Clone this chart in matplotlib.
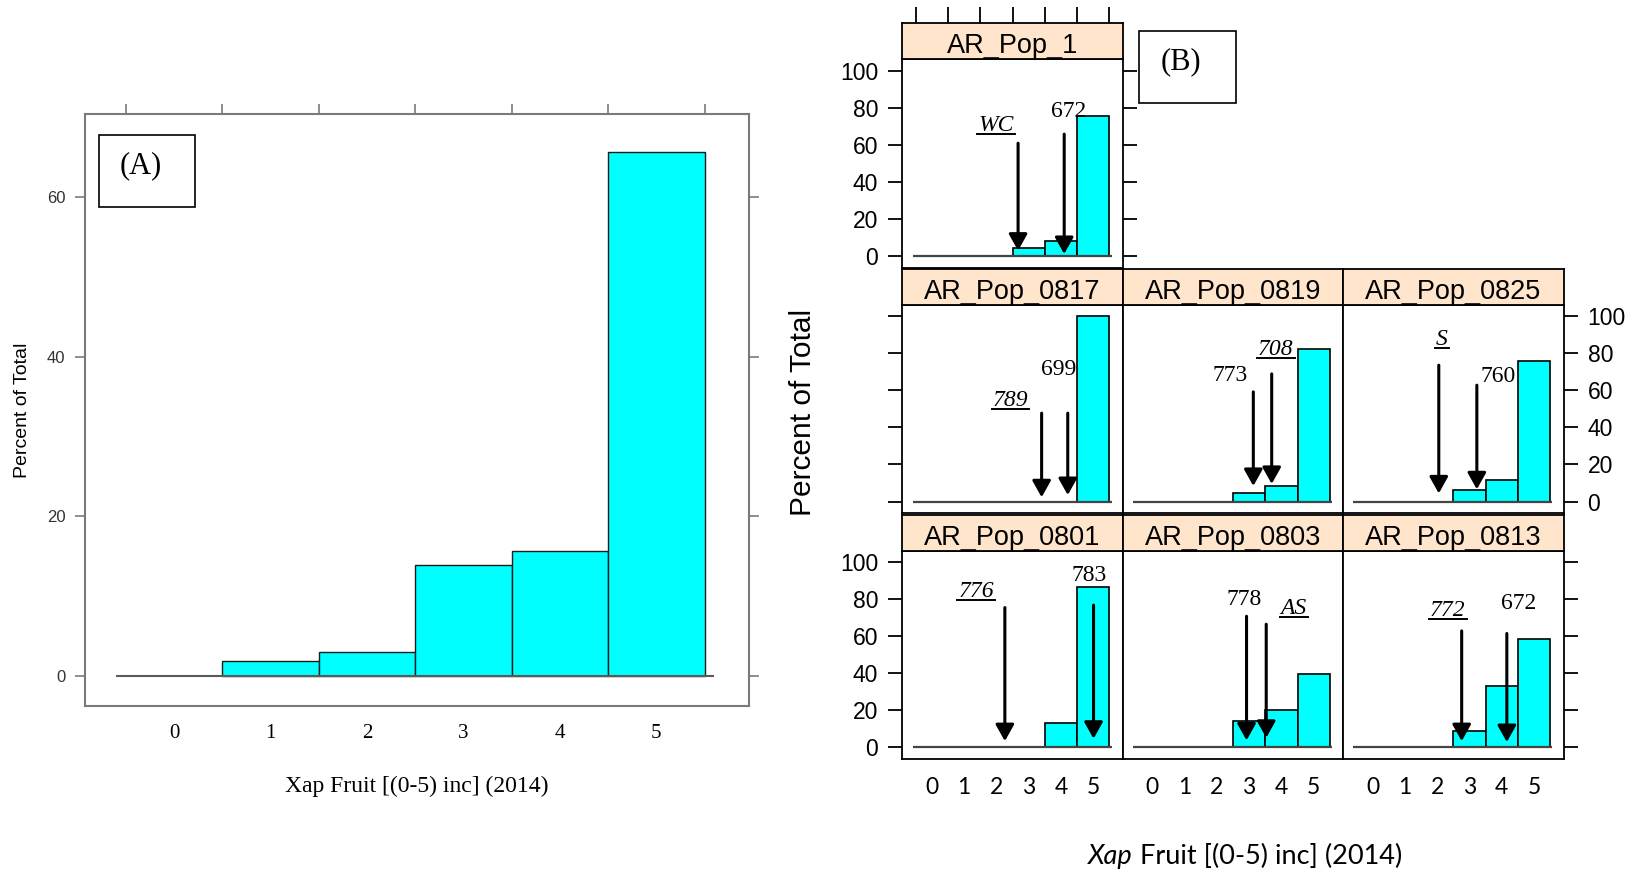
import matplotlib
matplotlib.use("Agg")
import matplotlib.pyplot as plt
from matplotlib.patches import Rectangle
from matplotlib.lines import Line2D
from matplotlib.ticker import FixedLocator

W, H = 1636, 872
fig = plt.figure(figsize=(W / 100, H / 100), dpi=100)


def rect(l, t, r, b):
    return [l / W, 1 - b / H, (r - l) / W, (b - t) / H]


# ---------------- data ----------------
scores = [0, 1, 2, 3, 4, 5]
score_labels = ["0", "1", "2", "3", "4", "5"]
bin_edges = [-0.5, 0.5, 1.5, 2.5, 3.5, 4.5, 5.5]

# Panel A : whole population
a_percent = [0.0, 1.8, 3.0, 13.9, 15.6, 65.7]
a_yticks = [0, 20, 40, 60]

# Panel B : per population
b_yticks = [0, 20, 40, 60, 80, 100]
panel_names = ["AR_Pop_1", "AR_Pop_0817", "AR_Pop_0819", "AR_Pop_0825",
               "AR_Pop_0801", "AR_Pop_0803", "AR_Pop_0813"]
pct_pop_1 = [0, 0, 0, 4.2, 8.3, 75.5]
pct_0817 = [0, 0, 0, 0, 0, 100.0]
pct_0819 = [0, 0, 0, 4.4, 8.4, 82.3]
pct_0825 = [0, 0, 0, 6.2, 11.6, 76.0]
pct_0801 = [0, 0, 0, 0, 13.2, 86.8]
pct_0803 = [0, 0, 0, 14.1, 20.4, 39.8]
pct_0813 = [0, 0, 0, 8.8, 33.4, 58.4]

# annotation labels: (text, x, y, italic+underlined)
labels_pop_1 = [("WC", 1.98, 71.7, True), ("672", 4.23, 79.3, False)]
labels_0817 = [("789", 2.43, 55.8, True), ("699", 3.92, 72.5, False)]
labels_0819 = [("773", 2.41, 69.3, False), ("708", 3.83, 83.3, True)]
labels_0825 = [("S", 2.14, 88.7, True), ("760", 3.88, 68.9, False)]
labels_0801 = [("776", 1.37, 85.2, True), ("783", 4.86, 93.9, False)]
labels_0803 = [("778", 2.83, 81.3, False), ("AS", 4.38, 76.2, True)]
labels_0813 = [("772", 2.33, 75.0, True), ("672", 4.51, 78.9, False)]

# arrows: (x, y_start, y_tip)
arrows_pop_1 = [(2.67, 60.9, 2.9), (4.10, 65.8, 1.1)]
arrows_0817 = [(3.40, 47.7, 2.3), (4.21, 47.7, 3.5)]
arrows_0819 = [(3.13, 59.2, 8.4), (3.70, 68.9, 9.5)]
arrows_0825 = [(2.05, 73.6, 4.4), (3.23, 62.8, 6.6)]
arrows_0801 = [(2.26, 75.5, 3.4), (5.01, 76.8, 4.7)]
arrows_0803 = [(2.92, 70.8, 3.8), (3.53, 66.5, 5.2)]
arrows_0813 = [(2.76, 62.9, 3.4), (4.16, 61.5, 2.9)]

panel_pcts = [pct_pop_1, pct_0817, pct_0819, pct_0825, pct_0801, pct_0803, pct_0813]
panel_labels = [labels_pop_1, labels_0817, labels_0819, labels_0825,
                labels_0801, labels_0803, labels_0813]
panel_arrows = [arrows_pop_1, arrows_0817, arrows_0819, arrows_0825,
                arrows_0801, arrows_0803, arrows_0813]
panel_cells = [(0, 0), (1, 0), (1, 1), (1, 2), (2, 0), (2, 1), (2, 2)]

CYAN = "#00FFFF"
STRIP = "#FFE5CC"
SANS = "Liberation Sans"
SERIF = "Liberation Serif"
PX = 72 / 100  # points per pixel

# ---------------- Panel A ----------------
axA = fig.add_axes(rect(84.5, 113.7, 749, 706))
xs = [s for s, v in zip(scores, a_percent) if v > 0]
vs = [v for v in a_percent if v > 0]
axA.bar(xs, vs, width=1.0, color=CYAN, edgecolor="#1a1a1a", linewidth=1.0, zorder=2)
axA.hlines(0, bin_edges[0] - 0.1, bin_edges[-1] + 0.1, color="#5a5a5a", lw=1.5, zorder=3)
axA.set_xlim(-0.93, 5.96)
axA.set_ylim(-3.8, 70.5)
for s in axA.spines.values():
    s.set_color("#7a7a7a")
    s.set_linewidth(1.5)
axA.set_yticks(a_yticks)
axA.set_yticklabels([str(v) for v in a_yticks], fontfamily=SANS, fontsize=12, color="#333333")
axA.tick_params(axis="y", left=True, right=True, labelright=False, direction="out",
                length=10 * PX, width=1.2, color="#7a7a7a", pad=9 * PX)
axA.set_xticks(scores)
axA.set_xticklabels(score_labels, fontfamily=SERIF, fontsize=15)
axA.xaxis.set_minor_locator(FixedLocator(bin_edges))
axA.tick_params(axis="x", which="major", bottom=True, top=False, length=0, pad=18 * PX)
axA.tick_params(axis="x", which="minor", bottom=False, top=True, direction="out",
                length=10 * PX, width=1.2, color="#7a7a7a")
fig.text(416.7 / W, 1 - 786 / H, "Xap Fruit [(0-5) inc] (2014)", fontfamily=SERIF,
         fontsize=17, ha="center", va="center")
fig.text(23 / W, 1 - 410 / H, "Percent of Total", fontfamily=SANS, fontsize=14,
         rotation=90, ha="center", va="center")
fig.add_artist(Rectangle((99 / W, 1 - 207 / H), 96 / W, 72 / H, transform=fig.transFigure,
                         fill=False, ec="black", lw=1.2))
fig.text(141 / W, 1 - 166 / H, "(A)", fontfamily=SERIF, fontsize=22, ha="center", va="center")

# ---------------- Panel B ----------------
col_left = [902.3, 1122.7, 1343.0]
col_w = 220.6
row_top = [59.3, 304.8, 550.7]
plot_h = 208.4
strip_h = 36.0

underlines = []
for name, pct, labs, arrs, (r, c) in zip(panel_names, panel_pcts, panel_labels,
                                          panel_arrows, panel_cells):
    l = col_left[c]
    t = row_top[r]
    ax = fig.add_axes(rect(l, t, l + col_w, t + plot_h))
    xs = [s for s, v in zip(scores, pct) if v > 0]
    vs = [v for v in pct if v > 0]
    ax.bar(xs, vs, width=1.0, color=CYAN, edgecolor="black", linewidth=1.2, zorder=2)
    ax.hlines(0, bin_edges[0] - 0.1, bin_edges[-1] + 0.07, color="#444444", lw=1.6, zorder=3)
    ax.set_xlim(-0.92, 5.92)
    ax.set_ylim(-6.3, 106.2)
    for s in ax.spines.values():
        s.set_color("black")
        s.set_linewidth(1.3)
    ax.set_yticks(b_yticks)
    ax.set_yticklabels([str(v) for v in b_yticks], fontfamily=SANS, fontsize=16.5)
    left_ticks = c == 0
    right_ticks = (c == 2) or (r == 0)
    ax.tick_params(axis="y", left=left_ticks, right=right_ticks,
                   labelleft=(c == 0 and r in (0, 2)), labelright=(c == 2 and r == 1),
                   direction="out", length=14 * PX, width=1.3, pad=10 * PX)
    ax.set_xticks(scores)
    ax.set_xticklabels(score_labels, fontfamily="Lato", fontsize=16.5)
    ax.tick_params(axis="x", bottom=False, top=False, labelbottom=(r == 2),
                   length=0, pad=18 * PX)

    for x, y0, y1 in arrs:
        ax.annotate("", xy=(x, y1), xytext=(x, y0),
                    arrowprops=dict(arrowstyle="-|>,head_length=0.5,head_width=0.28",
                                    mutation_scale=20, lw=2.2, color="black",
                                    shrinkA=0, shrinkB=0), zorder=5)
    for txt, x, y, emph in labs:
        tt = ax.annotate(txt, xy=(x, y), xytext=(0, -5.6), textcoords="offset points",
                         ha="center", va="baseline", fontfamily=SERIF, fontsize=17,
                         style="italic" if emph else "normal", zorder=6)
        if emph:
            underlines.append((ax, tt, x, y))

    # strip
    sax = fig.add_axes(rect(l, t - strip_h, l + col_w, t))
    sax.set_facecolor(STRIP)
    sax.set_xlim(-0.92, 5.92)
    sax.set_ylim(0, 1)
    for s in sax.spines.values():
        s.set_color("black")
        s.set_linewidth(1.3)
    sax.set_yticks([])
    sax.set_xticks([])
    if r == 0:
        sax.xaxis.set_minor_locator(FixedLocator(bin_edges))
        sax.tick_params(axis="x", which="minor", top=True, bottom=False, direction="out",
                        length=16 * PX, width=1.3)
    sax.text(0.5, 0.17, name, transform=sax.transAxes, ha="center", va="baseline",
             fontfamily=SANS, fontsize=19.5)

# (B) box
fig.add_artist(Rectangle((1139 / W, 1 - 103 / H), 97 / W, 72 / H, transform=fig.transFigure,
                         fill=False, ec="black", lw=1.2))
fig.text(1181 / W, 1 - 62 / H, "(B)", fontfamily=SERIF, fontsize=22, ha="center", va="center")

# B axis titles
fig.text(803 / W, 1 - 412 / H, "Percent of Total", fontfamily=SANS, fontsize=21.5,
         rotation=90, ha="center", va="center")
t1 = fig.text(1100 / W, 1 - 864 / H, "Xap", fontfamily="Lato", style="italic",
              fontsize=19.5, ha="left", va="baseline")
t2 = fig.text(0, 0, " Fruit [(0-5) inc] (2014)", fontfamily="Lato", fontsize=19.5,
              ha="left", va="baseline")

fig.canvas.draw()
rend = fig.canvas.get_renderer()
b1 = t1.get_window_extent(rend)
b2 = t2.get_window_extent(rend)
total = b1.width + b2.width
x_start = 1245 - total / 2
t1.set_x(x_start / W)
t2.set_position(((x_start + b1.width) / W, 1 - 864 / H))

for ax, tt, x, y in underlines:
    bb = tt.get_window_extent(rend)
    ybase = ax.transData.transform((x, y))[1] - 5.6 / PX
    yu = ybase - 3
    fig.add_artist(Line2D([(bb.x0 - 1) / W, (bb.x1 + 1) / W], [yu / H, yu / H],
                          transform=fig.transFigure, color="black", lw=1.4))

fig.savefig("out.png", dpi=100)
